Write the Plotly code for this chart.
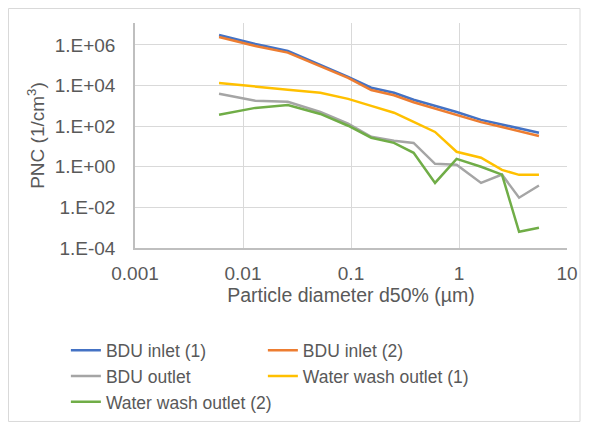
import plotly.graph_objects as go

# Particle diameter d50 (µm)
diameter = [0.006, 0.013, 0.026, 0.052, 0.094, 0.154, 0.25, 0.38, 0.60, 0.95, 1.6, 2.5, 3.6, 5.5]

bdu_inlet_1 = [3.1e6, 1.12e6, 5.1e5, 1.05e5, 2.7e4, 7.8e3, 4.4e3, 2.0e3, 1.0e3, 500, 204, 117, 74, 47]
bdu_inlet_2 = [2.45e6, 8.9e5, 4.2e5, 9.3e4, 2.4e4, 6.0e3, 3.3e3, 1.5e3, 740, 370, 158, 91, 55, 33]
bdu_outlet = [3.9e3, 1.8e3, 1.6e3, 500, 132, 30, 19, 15, 1.4, 1.26, 0.16, 0.41, 0.03, 0.12]
water_wash_1 = [1.35e4, 8.7e3, 6.2e3, 4.4e3, 2.2e3, 1.0e3, 460, 162, 52, 5.5, 2.8, 0.7, 0.4, 0.4]
water_wash_2 = [363, 794, 1.1e3, 400, 105, 27, 15, 4.9, 0.16, 2.45, 1.0, 0.41, 6.3e-4, 1.0e-3]

series_names = ["BDU inlet (1)", "BDU inlet (2)", "BDU outlet", "Water wash outlet (1)", "Water wash outlet (2)"]
series_values = [bdu_inlet_1, bdu_inlet_2, bdu_outlet, water_wash_1, water_wash_2]
series_colors = ["#4472C4", "#ED7D31", "#A5A5A5", "#FFC000", "#70AD47"]
# legend column for each series (two-column legend as in the reference)
series_legend = ["legend", "legend2", "legend", "legend2", "legend"]

y_tickvals = [1e-4, 1e-2, 1e0, 1e2, 1e4, 1e6]
y_ticktext = ["1.E-04", "1.E-02", "1.E+00", "1.E+02", "1.E+04", "1.E+06"]
x_tickvals = [0.001, 0.01, 0.1, 1, 10]
x_ticktext = ["0.001", "0.01", "0.1", "1", "10"]

FONT = "Liberation Sans, Arial, sans-serif"
TXT = "#595959"

fig = go.Figure()
for name, vals, col, lg in zip(series_names, series_values, series_colors, series_legend):
    fig.add_trace(go.Scatter(x=diameter, y=vals, mode="lines", name=name, legend=lg,
                             line=dict(color=col, width=2.5)))

legend_common = dict(orientation="v", xref="paper", yref="paper",
                     yanchor="top", xanchor="left",
                     font=dict(family=FONT, size=17.5, color=TXT),
                     tracegroupgap=0, itemwidth=30, bgcolor="rgba(0,0,0,0)")

# the page body adds an 8px margin, so the figure is 16px smaller than the window
fig.update_layout(
    width=575, height=414,
    margin=dict(l=127, r=16, t=15, b=174, autoexpand=False),
    paper_bgcolor="white", plot_bgcolor="white",
    font=dict(family=FONT, size=19, color=TXT),
    showlegend=True,
    legend=dict(x=-0.16, y=-0.375, **legend_common),
    legend2=dict(x=0.296, y=-0.375, **legend_common),
    xaxis=dict(type="log", range=[-3, 1], tickvals=x_tickvals, ticktext=x_ticktext,
               showgrid=True, gridcolor="#D9D9D9", gridwidth=1,
               showline=True, linecolor="#BFBFBF", linewidth=1.5,
               ticks="", ticklabelstandoff=7, zeroline=False,
               title=dict(text="Particle diameter d50% (µm)", standoff=6,
                          font=dict(family=FONT, size=19.5, color=TXT))),
    yaxis=dict(type="log", range=[-4, 7.08], tickvals=y_tickvals, ticktext=y_ticktext,
               showgrid=True, gridcolor="#D9D9D9", gridwidth=1,
               showline=True, linecolor="#BFBFBF", linewidth=1.5,
               ticks="", ticklabelstandoff=14, zeroline=False,
               title=dict(text="PNC (1/cm<sup>3</sup>)", standoff=5,
                          font=dict(family=FONT, size=19, color=TXT))),
)

fig.add_shape(type="rect", xref="paper", yref="paper",
              x0=-0.2928, x1=1.0301, y0=-0.771, y1=1.0644,
              line=dict(color="#D9D9D9", width=1), fillcolor="rgba(0,0,0,0)", layer="below")

fig.write_html("out.html")
